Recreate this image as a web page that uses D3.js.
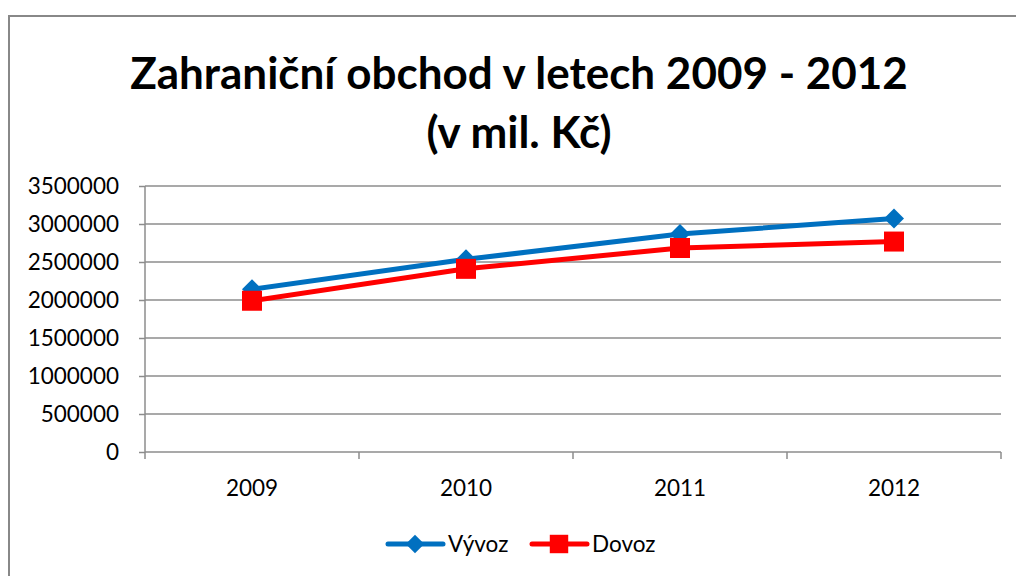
<!DOCTYPE html>
<html>
<head>
<meta charset="utf-8">
<script src="https://cdn.jsdelivr.net/npm/d3@7"></script>
<style>
  body { margin: 0; background: #fff; }
  svg { display: block; font-family: Lato, "Open Sans", sans-serif; }
</style>
</head>
<body>
<div class="chart"></div>
<script>

var years = ["2009", "2010", "2011", "2012"];
var vyvoz = [2141000, 2535000, 2868000, 3072000];
var dovoz = [1990000, 2410000, 2684000, 2769000];
var yTicks = [0, 500000, 1000000, 1500000, 2000000, 2500000, 3000000, 3500000];
var titleLines = ["Zahraniční obchod v letech 2009 - 2012", "(v mil. Kč)"];

var width = 1016, height = 576;
var margin = {top: 186, right: 15, bottom: 124, left: 145};
var w = width - margin.left - margin.right,
    h = height - margin.top - margin.bottom;
var gridColor = "#8c8c8c";
var labelSize = "22.5px";

var svg = d3.select(".chart")
  .append("svg")
    .attr("width", width)
    .attr("height", height);

svg.append("rect")
  .attr("width", width)
  .attr("height", height)
  .attr("fill", "#fff");

// chart border (runs off the right and bottom of the picture)
svg.append("rect")
  .attr("x", 9)
  .attr("y", 16)
  .attr("width", 1040)
  .attr("height", 600)
  .attr("fill", "none")
  .attr("stroke", "#888")
  .attr("stroke-width", 2);

svg.selectAll(".title")
  .data(titleLines)
  .enter().append("text")
    .attr("class", "title")
    .attr("x", 519)
    .attr("y", function(d, i) { return 89 + i * 59; })
    .attr("text-anchor", "middle")
    .style("font-size", "44px")
    .style("font-weight", "bold")
    .style("fill", "#000")
    .text(function(d) { return d; });

var g = svg.append("g")
  .attr("transform", "translate(" + margin.left + "," + margin.top + ")");

var x = d3.scaleBand().domain(years).range([0, w]);
var y = d3.scaleLinear().domain([0, 3500000]).range([h, 0]);

// gridlines
g.selectAll(".grid")
  .data(yTicks.slice(1))
  .enter().append("line")
    .attr("x1", 0)
    .attr("x2", w)
    .attr("y1", function(d) { return y(d); })
    .attr("y2", function(d) { return y(d); })
    .attr("stroke", gridColor)
    .attr("stroke-width", 1.5);

// y axis
var yAxis = g.append("g")
  .call(d3.axisLeft(y).tickValues(yTicks).tickSize(6).tickPadding(20).tickFormat(d3.format("d")));
yAxis.selectAll("line, path").attr("stroke", gridColor).attr("stroke-width", 1.5);
yAxis.select(".domain").attr("d", "M0," + h + "V0");
yAxis.selectAll("text")
  .style("font-size", labelSize)
  .style("font-family", "Lato, 'Open Sans', sans-serif")
  .attr("fill", "#000");

// x axis: ticks at category boundaries
var xAxisG = g.append("g").attr("transform", "translate(0," + h + ")");
xAxisG.append("line")
  .attr("x1", 0).attr("x2", w)
  .attr("stroke", gridColor).attr("stroke-width", 1.5);
var bounds = years.map(function(d) { return x(d); }).concat([w]);
xAxisG.selectAll(".xtick")
  .data(bounds)
  .enter().append("line")
    .attr("x1", function(d) { return d; })
    .attr("x2", function(d) { return d; })
    .attr("y1", 0).attr("y2", 7)
    .attr("stroke", gridColor).attr("stroke-width", 1.5);
xAxisG.selectAll(".xlabel")
  .data(years)
  .enter().append("text")
    .attr("x", function(d) { return x(d) + x.bandwidth() / 2; })
    .attr("y", 44)
    .attr("text-anchor", "middle")
    .style("font-size", labelSize)
    .attr("fill", "#000")
    .text(function(d) { return d; });

var series = [
  {name: "Vývoz", values: vyvoz, color: "#0070C0", symbol: d3.symbolSquare, size: 200, rotate: 45},
  {name: "Dovoz", values: dovoz, color: "#FF0000", symbol: d3.symbolSquare, size: 400, rotate: 0}
];

var line = d3.line()
  .x(function(d, i) { return x(years[i]) + x.bandwidth() / 2; })
  .y(function(d) { return y(d); });

series.forEach(function(s) {
  g.append("path")
    .attr("d", line(s.values))
    .attr("fill", "none")
    .attr("stroke", s.color)
    .attr("stroke-width", 5)
    .attr("stroke-linejoin", "round")
    .attr("stroke-linecap", "round");
  g.selectAll(".pt-" + s.name)
    .data(s.values)
    .enter().append("path")
      .attr("transform", function(d, i) {
        return "translate(" + (x(years[i]) + x.bandwidth() / 2) + "," + y(d) + ") rotate(" + s.rotate + ")";
      })
      .attr("d", d3.symbol().type(s.symbol).size(s.size))
      .attr("fill", s.color);
});

// legend
var legendX = [388, 532];
var legend = svg.selectAll(".legend")
  .data(series)
  .enter().append("g")
    .attr("transform", function(d, i) { return "translate(" + legendX[i] + ",544)"; });
legend.append("line")
  .attr("x1", 0).attr("x2", 55)
  .attr("stroke", function(d) { return d.color; })
  .attr("stroke-width", 5)
  .attr("stroke-linecap", "round");
legend.append("path")
  .attr("transform", function(d) { return "translate(27,0) rotate(" + d.rotate + ")"; })
  .attr("d", function(d) { return d3.symbol().type(d.symbol).size(d.size * 0.85)(); })
  .attr("fill", function(d) { return d.color; });
legend.append("text")
  .attr("x", 60)
  .attr("y", 8)
  .style("font-size", labelSize)
  .attr("fill", "#000")
  .text(function(d) { return d.name; });

</script>
</body>
</html>
